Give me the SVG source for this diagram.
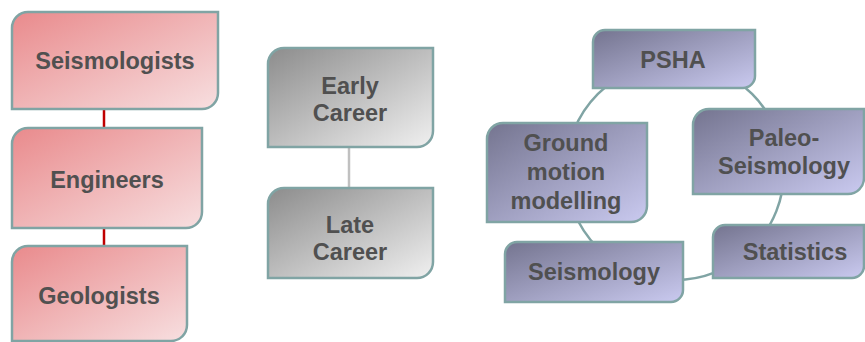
<svg xmlns="http://www.w3.org/2000/svg" width="865" height="342" viewBox="0 0 865 342">
<defs>
<linearGradient id="gPink" x1="0" y1="0" x2="1" y2="1">
<stop offset="0" stop-color="#e98a8c"/>
<stop offset="1" stop-color="#f7dfe0"/>
</linearGradient>
<linearGradient id="gGray" x1="0" y1="0" x2="1" y2="1">
<stop offset="0" stop-color="#8c8c8c"/>
<stop offset="1" stop-color="#f0f0f0"/>
</linearGradient>
<linearGradient id="gPurp" x1="0" y1="0" x2="1" y2="1">
<stop offset="0" stop-color="#74748f"/>
<stop offset="1" stop-color="#cacaf0"/>
</linearGradient>
</defs>
<style>
.box{stroke:#80a4a4;stroke-width:2.5}
.pink{fill:url(#gPink)}
.gray{fill:url(#gGray)}
.purp{fill:url(#gPurp)}
text{font-family:"Liberation Sans",Arial,sans-serif;font-weight:bold;font-size:23.5px;fill:#505050;text-anchor:middle}
</style>
<g id="connectors" fill="none">
<line x1="104" y1="109" x2="104" y2="128" stroke="#c00000" stroke-width="2.5"/>
<line x1="104" y1="228" x2="104" y2="246" stroke="#c00000" stroke-width="2.5"/>
<line x1="349" y1="147" x2="349" y2="188" stroke="#c0c0c0" stroke-width="2.5"/>
<circle cx="675" cy="171" r="109" stroke="#80a4a4" stroke-width="2.5"/>
</g>
<g id="seismologists">
<path class="box pink" d="M12,109 V28 A16,16 0 0 1 28,12 H218 V93 A16,16 0 0 1 202,109 Z"/>
<text x="115" y="69">Seismologists</text>
</g>
<g id="engineers">
<path class="box pink" d="M12,228 V144 A16,16 0 0 1 28,128 H202 V212 A16,16 0 0 1 186,228 Z"/>
<text x="107" y="188">Engineers</text>
</g>
<g id="geologists">
<path class="box pink" d="M12,341 V262 A16,16 0 0 1 28,246 H187 V325 A16,16 0 0 1 171,341 Z"/>
<text x="99" y="304">Geologists</text>
</g>
<g id="early-career">
<path class="box gray" d="M268,147 V64 A16,16 0 0 1 284,48 H433 V131 A16,16 0 0 1 417,147 Z"/>
<text x="350" y="94">Early</text>
<text x="350" y="121">Career</text>
</g>
<g id="late-career">
<path class="box gray" d="M268,278 V204 A16,16 0 0 1 284,188 H433 V262 A16,16 0 0 1 417,278 Z"/>
<text x="350" y="233">Late</text>
<text x="350" y="260">Career</text>
</g>
<g id="psha">
<path class="box purp" d="M593,88 V42 A12,12 0 0 1 605,30 H755 V76 A12,12 0 0 1 743,88 Z"/>
<text x="673" y="68">PSHA</text>
</g>
<g id="paleo-seismology">
<path class="box purp" d="M693,194 V125 A16,16 0 0 1 709,109 H864 V178 A16,16 0 0 1 848,194 Z"/>
<text x="784" y="146">Paleo-</text>
<text x="784" y="174">Seismology</text>
</g>
<g id="ground-motion">
<path class="box purp" d="M487,222 V139 A16,16 0 0 1 503,123 H647 V206 A16,16 0 0 1 631,222 Z"/>
<text x="566" y="151">Ground</text>
<text x="566" y="180">motion</text>
<text x="566" y="209">modelling</text>
</g>
<g id="statistics">
<path class="box purp" d="M713,278 V237 A12,12 0 0 1 725,225 H864 V266 A12,12 0 0 1 852,278 Z"/>
<text x="795" y="260">Statistics</text>
</g>
<g id="seismology">
<path class="box purp" d="M505,302 V254 A12,12 0 0 1 517,242 H683 V290 A12,12 0 0 1 671,302 Z"/>
<text x="594" y="280">Seismology</text>
</g>
</svg>
